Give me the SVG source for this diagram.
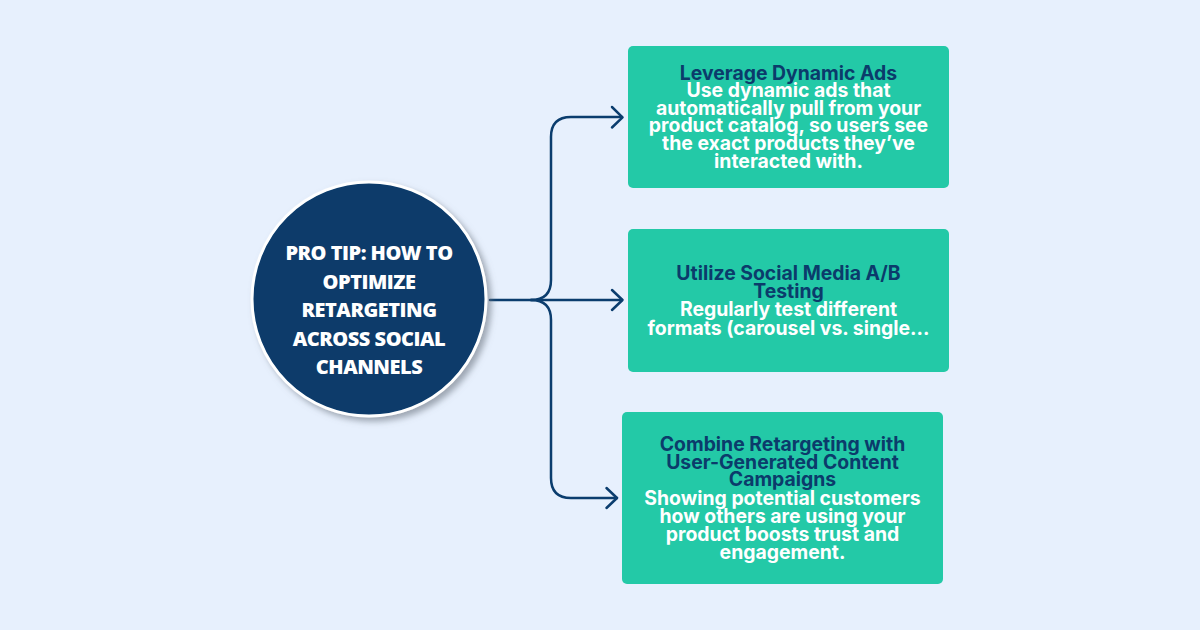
<svg xmlns="http://www.w3.org/2000/svg" width="1200" height="630" viewBox="0 0 1200 630">
<defs>
<style>
.bg{fill:#E7F0FD}
.box{fill:#23C9A7}
.conn{fill:none;stroke:#0B3D6E;stroke-width:2.5;stroke-linecap:round;stroke-linejoin:round}
.ct{font-family:"Open Sans","Liberation Sans",sans-serif;font-weight:800;font-size:20px;fill:#FFFFFF;text-anchor:middle;letter-spacing:-0.5px}
.tt{font-family:Inter,"Liberation Sans",sans-serif;font-weight:700;font-size:19.4px;fill:#0B3B6B;text-anchor:middle}
.bt{font-family:Inter,"Liberation Sans",sans-serif;font-weight:700;font-size:19.4px;fill:#FFFFFF;text-anchor:middle}
</style>
<filter id="sh" x="-20%" y="-20%" width="140%" height="140%">
<feGaussianBlur in="SourceAlpha" stdDeviation="3"/>
<feOffset dx="4" dy="4" result="b"/>
<feFlood flood-color="#6B7480" flood-opacity="0.6"/>
<feComposite in2="b" operator="in"/>
<feMerge><feMergeNode/><feMergeNode in="SourceGraphic"/></feMerge>
</filter>
</defs>
<rect class="bg" x="0" y="0" width="1200" height="630"/>
<g id="connectors">
<path class="conn" d="M490,300 H622"/>
<path class="conn" d="M531,300 Q551,300 551,280 V137 Q551,117 571,117 H622"/>
<path class="conn" d="M531,300 Q551,300 551,320 V478 Q551,498 571,498 H617"/>
<path class="conn" d="M612,107 L622.5,117.3 L612,127.5"/>
<path class="conn" d="M612,290 L622.5,300 L612,310"/>
<path class="conn" d="M606.5,488 L617,498 L606.5,508"/>
</g>
<g id="center">
<circle cx="369" cy="299" r="117" fill="#073A6B" stroke="#FFFFFF" stroke-width="3" filter="url(#sh)"/>
<text class="ct" x="369" y="260">PRO TIP: HOW TO</text>
<text class="ct" x="369" y="288.5">OPTIMIZE</text>
<text class="ct" x="369" y="317">RETARGETING</text>
<text class="ct" x="369" y="345.5">ACROSS SOCIAL</text>
<text class="ct" x="369" y="374">CHANNELS</text>
</g>
<g id="box1">
<rect class="box" x="628" y="46" width="321" height="142" rx="5"/>
<text class="tt" x="788.5" y="79.5">Leverage Dynamic Ads</text>
<text class="bt" x="788.5" y="97">Use dynamic ads that</text>
<text class="bt" x="788.5" y="114.5">automatically pull from your</text>
<text class="bt" x="788.5" y="132">product catalog, so users see</text>
<text class="bt" x="788.5" y="150">the exact products they’ve</text>
<text class="bt" x="788.5" y="168">interacted with.</text>
</g>
<g id="box2">
<rect class="box" x="628" y="229" width="321" height="143" rx="5"/>
<text class="tt" x="788.5" y="280">Utilize Social Media A/B</text>
<text class="tt" x="788.5" y="298">Testing</text>
<text class="bt" x="788.5" y="316">Regularly test different</text>
<text class="bt" x="788.5" y="334.5">formats (carousel vs. single...</text>
</g>
<g id="box3">
<rect class="box" x="622" y="412" width="321" height="172" rx="5"/>
<text class="tt" x="782.5" y="451">Combine Retargeting with</text>
<text class="tt" x="782.5" y="468.5">User-Generated Content</text>
<text class="tt" x="782.5" y="486">Campaigns</text>
<text class="bt" x="782.5" y="504.5">Showing potential customers</text>
<text class="bt" x="782.5" y="522.5">how others are using your</text>
<text class="bt" x="782.5" y="540.5">product boosts trust and</text>
<text class="bt" x="782.5" y="558.5">engagement.</text>
</g>
</svg>
